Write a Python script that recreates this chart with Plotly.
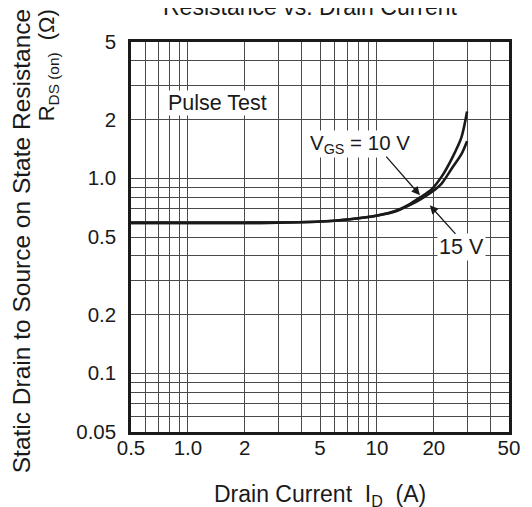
import plotly.graph_objects as go

# ---- data ----
current_10v = [0.5, 1.0, 2.0, 3.0, 5.0, 7.0, 10.0, 12.5, 15.0, 17.0, 19.5, 22.0, 25.0, 28.0, 30.0]
rds_10v = [0.59, 0.59, 0.59, 0.592, 0.60, 0.615, 0.645, 0.68, 0.74, 0.80, 0.88, 1.02, 1.27, 1.62, 2.2]

current_15v = [0.5, 1.0, 2.0, 3.0, 5.0, 7.0, 10.0, 12.5, 15.0, 17.0, 19.5, 22.0, 25.0, 28.0, 30.0]
rds_15v = [0.59, 0.59, 0.59, 0.592, 0.60, 0.615, 0.643, 0.675, 0.73, 0.78, 0.85, 0.94, 1.13, 1.33, 1.55]

x_tick_vals = [0.5, 1, 2, 5, 10, 20, 50]
x_tick_text = ["0.5", "1.0", "2", "5", "10", "20", "50"]
x_grid = [0.6, 0.7, 0.8, 0.9, 3, 4, 6, 7, 8, 9, 30, 40]
y_tick_vals = [0.05, 0.1, 0.2, 0.5, 1, 2, 5]
y_tick_text = ["0.05", "0.1", "0.2", "0.5", "1.0", "2", "5"]
y_grid = [0.06, 0.07, 0.08, 0.09, 0.3, 0.4, 0.6, 0.7, 0.8, 0.9, 3, 4]

FONT = "Liberation Sans, Arial, sans-serif"
INK = "#1a1a1a"
GRID = "#4a4a4a"

fig = go.Figure()
fig.add_trace(go.Scatter(x=current_10v, y=rds_10v, mode="lines",
                         line=dict(color=INK, width=2.6, shape="spline", smoothing=0.8),
                         showlegend=False, hoverinfo="skip"))
fig.add_trace(go.Scatter(x=current_15v, y=rds_15v, mode="lines",
                         line=dict(color=INK, width=2.6, shape="spline", smoothing=0.8),
                         showlegend=False, hoverinfo="skip"))

fig.update_xaxes(type="log", range=[-0.30103, 1.69897],
                 tickvals=x_tick_vals, ticktext=x_tick_text,
                 showgrid=True, gridcolor=GRID, gridwidth=1,
                 minor=dict(tickvals=x_grid, showgrid=True, gridcolor=GRID, gridwidth=1, ticks=""),
                 showline=True, linecolor=INK, linewidth=2.5, mirror=True,
                 ticks="", ticklen=0, ticklabelstandoff=-4,
                 tickfont=dict(family=FONT, size=20.5, color=INK))
fig.update_yaxes(type="log", range=[-1.30103, 0.69897],
                 tickvals=y_tick_vals, ticktext=y_tick_text,
                 showgrid=True, gridcolor=GRID, gridwidth=1,
                 minor=dict(tickvals=y_grid, showgrid=True, gridcolor=GRID, gridwidth=1, ticks=""),
                 showline=True, linecolor=INK, linewidth=2.5, mirror=True,
                 ticks="", ticklen=0, ticklabelstandoff=8,
                 tickfont=dict(family=FONT, size=20.5, color=INK))

# page has an 8px body margin: the figure is drawn at (8, 8) in the window
OFF = 8
W, H = 532 - OFF, 507 - OFF
PL, PR, PT, PB = 131, 513, 42, 424   # plot box in window pixels
L, T = PL - OFF, PT - OFF
R, B = 532 - PR, 507 - PB - OFF
PW, PH = PR - PL, PB - PT

def px(xp):
    return (xp - PL) / PW

def py(yp):
    return 1 - (yp - PT) / PH

ann = []
ann.append(dict(text="Resistance vs. Drain Current", x=px(312), y=py(22), xref="paper", yref="paper",
                xanchor="center", yanchor="bottom", showarrow=False,
                font=dict(family=FONT, size=23, color=INK)))
ann.append(dict(text="Drain Current\u00a0\u00a0I<sub>D</sub>\u00a0\u00a0(A)", x=px(322), y=py(486),
                xref="paper", yref="paper", xanchor="center", yanchor="middle", showarrow=False,
                font=dict(family=FONT, size=23, color=INK)))
ann.append(dict(text="Static Drain to Source on State Resistance", x=px(20), y=py(237),
                xref="paper", yref="paper", xanchor="center", yanchor="middle", showarrow=False,
                textangle=-90, font=dict(family=FONT, size=24.5, color=INK)))
ann.append(dict(text="R<sub>DS (on)</sub>\u00a0\u00a0(\u03a9)", x=px(48), y=py(65),
                xref="paper", yref="paper", xanchor="center", yanchor="middle", showarrow=False,
                textangle=-90, font=dict(family=FONT, size=22, color=INK)))
ann.append(dict(text="Pulse Test", x=px(218), y=py(102), xref="paper", yref="paper",
                xanchor="center", yanchor="middle", showarrow=False, bgcolor="white", borderpad=0,
                font=dict(family=FONT, size=21.5, color=INK)))
ann.append(dict(text="V<sub>GS</sub> = 10 V", x=px(362), y=py(142), xref="paper", yref="paper",
                xanchor="center", yanchor="middle", showarrow=False, bgcolor="white", borderpad=0,
                font=dict(family=FONT, size=20.5, color=INK)))
ann.append(dict(text="15 V", x=px(465), y=py(243), xref="paper", yref="paper",
                xanchor="center", yanchor="middle", showarrow=False, bgcolor="white", borderpad=1,
                font=dict(family=FONT, size=21.5, color=INK)))
# arrows
ann.append(dict(text="", x=px(423), y=py(192), xref="paper", yref="paper", showarrow=True,
                ax=-35, ay=-40, arrowhead=2, arrowsize=1.3, arrowwidth=1.3, arrowcolor=INK))
ann.append(dict(text="", x=px(433), y=py(202), xref="paper", yref="paper", showarrow=True,
                ax=27, ay=30, arrowhead=2, arrowsize=1.3, arrowwidth=1.3, arrowcolor=INK))

fig.update_layout(width=W, height=H, margin=dict(l=L, r=R, t=T, b=B, pad=0),
                  paper_bgcolor="white", plot_bgcolor="white", annotations=ann,
                  font=dict(family=FONT, color=INK))

fig.write_html("out.html")
